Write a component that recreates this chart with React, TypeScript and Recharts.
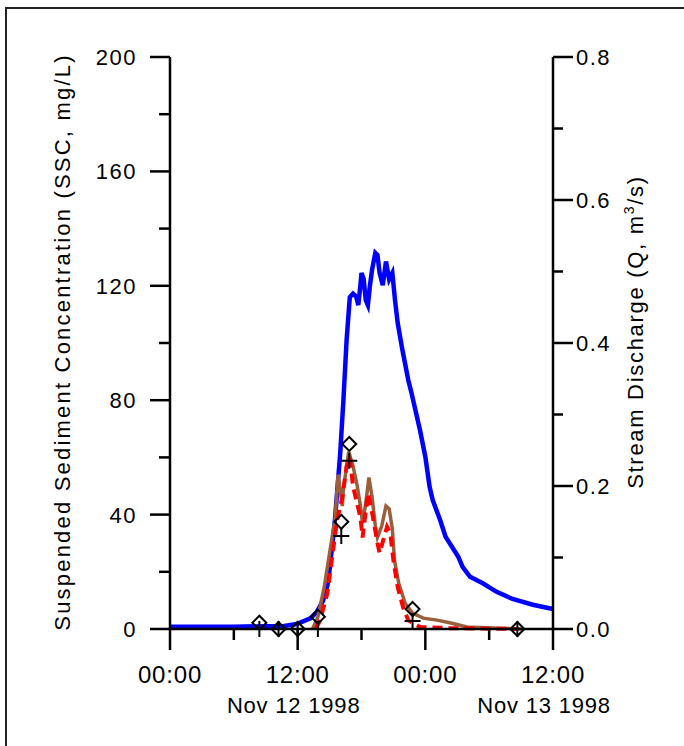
import { ComposedChart, Line, Scatter, XAxis, YAxis } from "recharts";

// hours since 00:00 Nov 12 1998
const hourTicks = [0, 6, 12, 18, 24, 30, 36];
const hourLabels: Record<number, string> = { 0: "00:00", 12: "12:00", 24: "00:00", 36: "12:00" };
const dateLabels: Record<number, string> = { 12: "Nov 12 1998", 36: "Nov 13 1998" };

const sscTicks = [0, 20, 40, 60, 80, 100, 120, 140, 160, 180, 200];
const qTicks = [0, 0.1, 0.2, 0.3, 0.4, 0.5, 0.6, 0.7, 0.8];

// stream discharge Q (m3/s)
const qHours = [
  0, 3, 6, 9, 10.6, 11.9, 13.2, 13.8, 14.4, 14.8, 15.0, 15.5, 16.0, 16.3, 16.6, 16.9,
  17.2, 17.5, 17.7, 17.9, 18.0, 18.2, 18.4, 18.6, 18.8, 19.0, 19.3, 19.5, 19.7, 20.0,
  20.3, 20.6, 20.9, 21.15, 21.4, 21.8, 22.4, 22.7, 23.5, 24.0, 24.4, 24.7, 25.4, 25.9,
  26.5, 27.1, 27.5, 28.2, 29.4, 30.7, 32.2, 34.1, 36.0,
];
const qValues = [
  0.003, 0.003, 0.003, 0.004, 0.004, 0.007, 0.015, 0.024, 0.04, 0.061, 0.083, 0.152,
  0.246, 0.32, 0.404, 0.464, 0.469, 0.465, 0.453, 0.481, 0.498, 0.49, 0.46, 0.453,
  0.481, 0.503, 0.526, 0.523, 0.498, 0.481, 0.514, 0.489, 0.498, 0.46, 0.428, 0.394,
  0.348, 0.33, 0.278, 0.241, 0.199, 0.18, 0.152, 0.129, 0.115, 0.101, 0.087, 0.073,
  0.064, 0.052, 0.042, 0.034, 0.028,
];

// continuous SSC (brown)
const sscHours = [
  13.4, 13.9, 14.5, 15.0, 15.5, 15.8, 16.2, 16.3, 16.8, 17.2, 17.6, 17.9, 18.1, 18.4,
  18.7, 19.0, 19.3, 19.5, 19.9, 20.3, 20.6, 20.9, 21.1, 21.5, 22.1, 22.8, 23.8, 25.1,
  26.5, 27.9, 31.0, 33.0,
];
const sscValues = [
  0, 4.2, 14.7, 26.6, 38, 54, 43, 49, 62, 57, 50, 43, 37, 44, 53, 46, 36, 32, 36, 43,
  42, 35, 24, 16, 9, 5.6, 3.8, 3.1, 2.0, 0.7, 0.3, 0,
];

// modelled SSC (red dashed)
const modelHours = [
  13.7, 14.1, 14.8, 15.2, 15.7, 16.2, 16.6, 16.9, 17.2, 17.9, 18.1, 18.6, 19.0, 19.5,
  19.7, 20.4, 20.7, 21.0, 21.4, 21.9, 22.4, 23.5, 26.3, 32.6,
];
const modelValues = [
  0, 3, 12.6, 24, 38, 46, 57, 60, 50, 39, 32, 47.5, 40.6, 30, 26.6, 35.7, 33.6, 24,
  14.7, 7.7, 3, 0.7, 0.3, 0,
];

// samples
const sampleHours = [8.4, 10.2, 12.0, 13.9, 16.1, 16.85, 22.8, 32.65];
const sampleSSC = [2.2, 0, 0, 4.3, 37.5, 64.7, 7.0, 0];
const sampleFit = [0, 0, 0, 0, 32.5, 58.8, 2.8, 0];

const qData = qHours.map((t, i) => ({ t, q: qValues[i] }));
const sscData = sscHours.map((t, i) => ({ t, ssc: sscValues[i] }));
const modelData = modelHours.map((t, i) => ({ t, model: modelValues[i] }));
const sampleData = sampleHours.map((t, i) => ({ t, ssc: sampleSSC[i], fit: sampleFit[i] }));

const FONT = "'Liberation Sans', Arial, sans-serif";
const AXIS = { stroke: "#000", strokeWidth: 2.5 };

function TimeTick({ x, y, payload }: any) {
  const h = payload.value;
  const major = h % 12 === 0;
  return (
    <g>
      <line x1={x} x2={x} y1={y} y2={y + (major ? 21 : 11)} stroke="#000" strokeWidth={2.5} />
      {major && (
        <text x={x} y={y + 54} textAnchor="middle" fontSize={24} letterSpacing={0.8} fill="#000" fontFamily={FONT}>
          {hourLabels[h]}
        </text>
      )}
      {dateLabels[h] && (
        <text x={x - (h === 36 ? 9 : 4)} y={y + 84} textAnchor="middle" fontSize={22} letterSpacing={0.8} fill="#000" fontFamily={FONT}>
          {dateLabels[h]}
        </text>
      )}
    </g>
  );
}

function SscTick({ x, y, payload }: any) {
  const v = payload.value;
  const major = v % 40 === 0;
  return (
    <g>
      <line x1={x} x2={x - (major ? 20 : 11)} y1={y} y2={y} stroke="#000" strokeWidth={2.5} />
      {major && (
        <text x={x - 33} y={y + 8} textAnchor="end" fontSize={22} letterSpacing={1.5} fill="#000" fontFamily={FONT}>
          {v}
        </text>
      )}
    </g>
  );
}

function QTick({ x, y, payload }: any) {
  const v = payload.value;
  const major = Math.round(v * 10) % 2 === 0;
  return (
    <g>
      <line x1={x} x2={x + (major ? 20 : 10)} y1={y} y2={y} stroke="#000" strokeWidth={2.5} />
      {major && (
        <text x={x + 23} y={y + 8} textAnchor="start" fontSize={22} letterSpacing={1.5} fill="#000" fontFamily={FONT}>
          {v.toFixed(1)}
        </text>
      )}
    </g>
  );
}

const Diamond = ({ cx, cy }: any) => (
  <path d={`M${cx},${cy - 7} L${cx + 7},${cy} L${cx},${cy + 7} L${cx - 7},${cy} Z`} fill="none" stroke="#000" strokeWidth={2} />
);

const Cross = ({ cx, cy }: any) => (
  <path d={`M${cx - 8},${cy} H${cx + 8} M${cx},${cy - 8} V${cy + 8}`} fill="none" stroke="#000" strokeWidth={2} />
);

export default function App() {
  return (
    <div style={{ position: "absolute", left: 0, top: 0, width: 684, height: 746, overflow: "hidden", background: "#fff" }}>
      <ComposedChart width={684} height={746} margin={{ top: 57, right: 71, bottom: 87, left: 110 }}>
        <XAxis
          dataKey="t"
          type="number"
          domain={[0, 36]}
          ticks={hourTicks}
          interval={0}
          height={30}
          tickLine={false}
          tickSize={0}
          tickMargin={0}
          axisLine={AXIS}
          tick={(p: any) => <TimeTick {...p} />}
        />
        <YAxis
          yAxisId="ssc"
          orientation="left"
          type="number"
          domain={[0, 200]}
          ticks={sscTicks}
          interval={0}
          width={60}
          tickLine={false}
          tickSize={0}
          tickMargin={0}
          axisLine={AXIS}
          tick={(p: any) => <SscTick {...p} />}
        />
        <YAxis
          yAxisId="q"
          orientation="right"
          type="number"
          domain={[0, 0.8]}
          ticks={qTicks}
          interval={0}
          width={60}
          tickLine={false}
          tickSize={0}
          tickMargin={0}
          axisLine={AXIS}
          tick={(p: any) => <QTick {...p} />}
        />
        <Line yAxisId="q" data={qData} dataKey="q" type="linear" stroke="#0000ff" strokeWidth={4.5} dot={false} isAnimationActive={false} />
        <Line yAxisId="ssc" data={sscData} dataKey="ssc" type="linear" stroke="#9b5e3c" strokeWidth={3.5} dot={false} isAnimationActive={false} />
        <Line yAxisId="ssc" data={modelData} dataKey="model" type="linear" stroke="#ff0000" strokeWidth={4} strokeDasharray="10 6" dot={false} isAnimationActive={false} />
        <Scatter yAxisId="ssc" data={sampleData} dataKey="fit" shape={Cross} isAnimationActive={false} />
        <Scatter yAxisId="ssc" data={sampleData} dataKey="ssc" shape={Diamond} isAnimationActive={false} />
      </ComposedChart>
      <svg width={684} height={746} style={{ position: "absolute", left: 0, top: 0, pointerEvents: "none" }}>
        <path d="M6,760 V8 H700" fill="none" stroke="#222" strokeWidth={2} />
        <text x={70} y={342} transform="rotate(-90 70 342)" textAnchor="middle" fontSize={22} letterSpacing={2.2} fill="#000" fontFamily={FONT}>
          Suspended Sediment Concentration (SSC, mg/L)
        </text>
        <text x={643} y={332} transform="rotate(-90 643 332)" textAnchor="middle" fontSize={22} letterSpacing={1.7} fill="#000" fontFamily={FONT}>
          Stream Discharge (Q, m<tspan fontSize={14} dy={-9}>3</tspan><tspan dy={9}>/s)</tspan>
        </text>
      </svg>
    </div>
  );
}
